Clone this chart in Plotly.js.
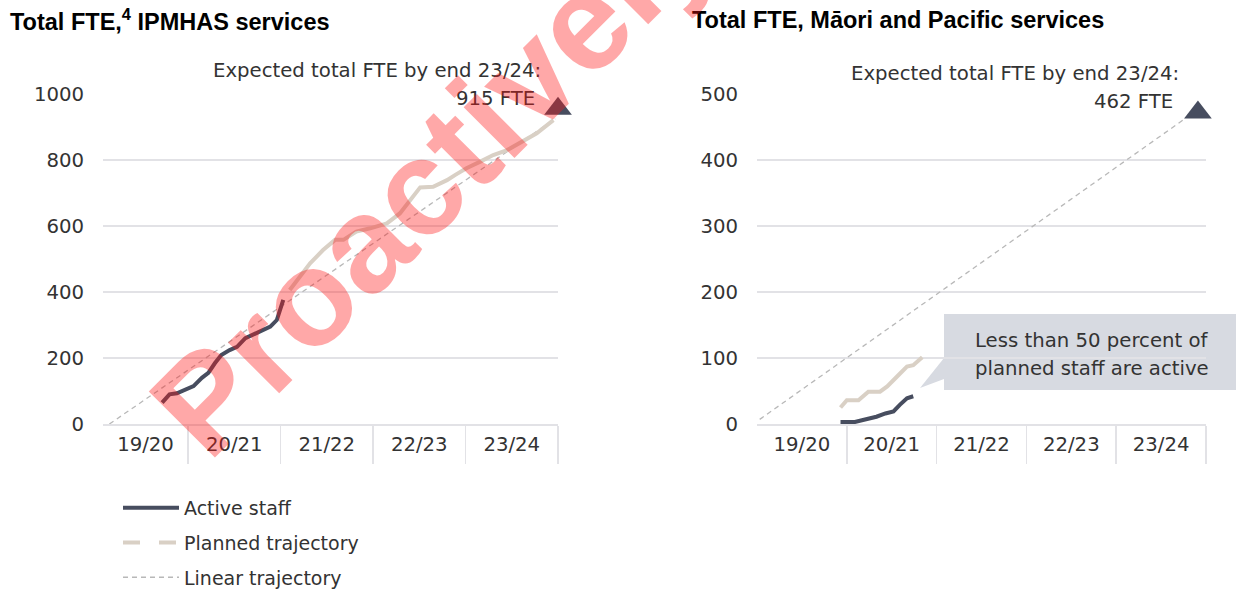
<!DOCTYPE html>
<html>
<head>
<meta charset="utf-8">
<script src="https://cdn.plot.ly/plotly-3.0.1.min.js"></script>
<style>
html,body{margin:0;padding:0;background:#fff;width:1236px;height:589px;overflow:hidden;}
#chart{width:1236px;height:589px;overflow:hidden;}
</style>
</head>
<body>
<div id="chart"></div>
<script>
// ---- Data (x in fiscal-year units: 19/20 spans 0..1, 20/21 spans 1..2, ...) ----
const fiscalYears = ['19/20', '20/21', '21/22', '22/23', '23/24'];

// IPMHAS services
const ipmActiveX  = [0.72, 0.80, 0.88, 0.99, 1.06, 1.15, 1.22, 1.29, 1.36, 1.45, 1.53, 1.62, 1.71, 1.80, 1.89, 1.96, 2.00, 2.03];
const ipmActiveY  = [65, 90, 93, 106, 115, 140, 155, 184, 209, 224, 234, 260, 271, 283, 295, 315, 350, 376];
const ipmPlannedX = [2.10, 2.32, 2.46, 2.59, 2.68, 2.82, 2.97, 3.15, 3.29, 3.40, 3.51, 3.65, 3.80, 3.89, 4.01, 4.16, 4.30, 4.45, 4.59, 4.77, 4.95];
const ipmPlannedY = [406, 487, 527, 558, 558, 583, 593, 608, 638, 679, 717, 719, 739, 755, 775, 795, 815, 830, 851, 881, 921];
const ipmLinearX  = [0.15, 4.97];
const ipmLinearY  = [0, 925];
const ipmExpected = 915;
const ipmMarkerX  = [5.0];
const ipmMarkerY  = [955];

// Maori and Pacific services
const mpActiveX  = [0.93, 1.09, 1.18, 1.33, 1.43, 1.52, 1.59, 1.67, 1.74];
const mpActiveY  = [3, 3, 6, 11, 16, 19, 29, 39, 42];
const mpPlannedX = [0.93, 1.00, 1.13, 1.24, 1.37, 1.45, 1.56, 1.67, 1.74, 1.84];
const mpPlannedY = [25, 36, 36, 49, 49, 57, 72, 87, 89, 101];
const mpLinearX  = [0.03, 4.77];
const mpLinearY  = [7, 463];
const mpExpected = 462;
const mpMarkerX  = [4.91];
const mpMarkerY  = [472];

const legendNames = ['Active staff', 'Planned trajectory', 'Linear trajectory'];
const calloutLines = ['Less than 50 percent of', 'planned staff are active'];

// ---- Styles ----
const FONT = '"DejaVu Sans", sans-serif';
const FS = 19.7;
const TXT = '#333333';
const C_ACTIVE = '#474d5f';
const C_PLANNED = '#d9d0c5';
const C_LINEAR = '#b8b8b8';
const C_GRID = '#e2e2e6';

function build(xa, ya, lx, ly, plx, ply, ax, ay, mkx, mky) {
  return [
    {x: lx, y: ly, xaxis: xa, yaxis: ya, type: 'scatter', mode: 'lines', showlegend: false,
     line: {color: C_LINEAR, width: 1.3, dash: '5px,4px'}, hoverinfo: 'skip'},
    {x: plx, y: ply, xaxis: xa, yaxis: ya, type: 'scatter', mode: 'lines', showlegend: false,
     line: {color: C_PLANNED, width: 4}, hoverinfo: 'skip'},
    {x: ax, y: ay, xaxis: xa, yaxis: ya, type: 'scatter', mode: 'lines', showlegend: false,
     line: {color: C_ACTIVE, width: 4}, hoverinfo: 'skip'},
    {x: mkx, y: mky, xaxis: xa, yaxis: ya, type: 'scatter', mode: 'markers', showlegend: false,
     cliponaxis: false, marker: {symbol: 'triangle-up', size: 24, color: C_ACTIVE}, hoverinfo: 'skip'}
  ];
}
const traces = [];
traces.push(...build('x', 'y', ipmLinearX, ipmLinearY, ipmPlannedX, ipmPlannedY, ipmActiveX, ipmActiveY, ipmMarkerX, ipmMarkerY));
traces.push(...build('x2', 'y2', mpLinearX, mpLinearY, mpPlannedX, mpPlannedY, mpActiveX, mpActiveY, mpMarkerX, mpMarkerY));

// legend-only entries
traces.push({x: [null], y: [null], type: 'scatter', mode: 'lines', name: legendNames[0], legendgroup: 'a',
  line: {color: C_ACTIVE, width: 4}});
traces.push({x: [null], y: [null], type: 'scatter', mode: 'lines', name: legendNames[1], legendgroup: 'b',
  line: {color: C_PLANNED, width: 4, dash: '17px,19px'}});
traces.push({x: [null], y: [null], type: 'scatter', mode: 'lines', name: legendNames[2], legendgroup: 'c',
  line: {color: C_LINEAR, width: 1.3, dash: '5px,4px'}});

const W = 1236, H = 589;
const px = v => v / W;
const py = v => (H - v) / H;

function xAxis(domain, range) {
  const first = (Math.max(range[0], 0) + 1) / 2;
  const centers = fiscalYears.map((_, i) => i === 0 ? first : i + 0.5);
  return {
    domain: domain, range: range, fixedrange: true,
    tickmode: 'array', tickvals: centers, ticktext: fiscalYears, ticks: '',
    tickfont: {family: FONT, size: FS, color: TXT},
    showgrid: false, zeroline: false, showline: true, linecolor: C_GRID, linewidth: 1.5,
    ticklabelstandoff: 2,
    minor: {tickmode: 'array', tickvals: [1, 2, 3, 4, 5], ticks: 'outside', ticklen: 38,
            tickcolor: C_GRID, tickwidth: 1.5, showgrid: false}
  };
}
function yAxis(domain, range, dtick, anchor) {
  return {
    domain: domain, range: range, fixedrange: true, anchor: anchor,
    tickmode: 'linear', tick0: 0, dtick: dtick,
    tickfont: {family: FONT, size: FS, color: TXT},
    showgrid: true, gridcolor: C_GRID, gridwidth: 1.5,
    zeroline: false, showline: false, ticks: '', ticklabelstandoff: 18
  };
}

const yDom = [py(424), py(94)];
const TITLE_FONT = {family: 'Liberation Sans, Arial, sans-serif', size: 23.5, color: '#000'};
const ANN_FONT = {family: FONT, size: FS, color: TXT};
const textAt = (x, y, text, anchor) => ({xref: 'paper', yref: 'paper', x: px(x), y: py(y),
  xanchor: anchor || 'right', yanchor: 'middle', showarrow: false, text: text, font: ANN_FONT});

const layout = {
  width: W, height: H, autosize: false,
  margin: {l: 0, r: 0, t: 0, b: 0, pad: 0, autoexpand: false},
  paper_bgcolor: '#ffffff', plot_bgcolor: '#ffffff',
  font: {family: FONT, color: TXT},
  showlegend: true,
  legend: {
    x: px(118), y: py(489), xanchor: 'left', yanchor: 'top',
    font: {family: FONT, size: 19, color: TXT},
    itemwidth: 56, tracegroupgap: 7, bgcolor: 'rgba(0,0,0,0)'
  },
  xaxis: Object.assign(xAxis([px(103), px(558)], [0.081, 5]), {anchor: 'y'}),
  yaxis: yAxis(yDom, [0, 1000], 200, 'x'),
  xaxis2: Object.assign(xAxis([px(757), px(1206)], [0, 5]), {anchor: 'y2'}),
  yaxis2: yAxis(yDom, [0, 500], 100, 'x2'),
  shapes: [
    {type: 'rect', xref: 'paper', yref: 'paper', x0: px(944), x1: 1, y0: py(390), y1: py(314),
     fillcolor: '#d7dae1', line: {width: 0}, layer: 'below'},
    {type: 'path', xref: 'paper', yref: 'paper', fillcolor: '#d7dae1', line: {width: 0}, layer: 'below',
     path: `M${px(944)},${py(358)} L${px(920)},${py(388)} L${px(944)},${py(379)} Z`}
  ],
  annotations: [
    {xref: 'paper', yref: 'paper', x: px(8), y: py(20), xanchor: 'left', yanchor: 'middle', showarrow: false,
     text: '<b>Total FTE,<sup>4</sup> IPMHAS services</b>', font: TITLE_FONT},
    {xref: 'paper', yref: 'paper', x: px(690), y: py(20), xanchor: 'left', yanchor: 'middle', showarrow: false,
     text: '<b>Total FTE, Māori and Pacific services</b>', font: TITLE_FONT},
    textAt(543, 70, 'Expected total FTE by end 23/24:'),
    textAt(537, 98, ipmExpected + ' FTE'),
    textAt(1181, 74, 'Expected total FTE by end 23/24:'),
    textAt(1175, 102, mpExpected + ' FTE'),
    textAt(1211, 340, calloutLines[0]),
    textAt(1211, 368, calloutLines[1]),
    // watermark
    {xref: 'paper', yref: 'paper', x: px(656), y: py(-50), xanchor: 'center', yanchor: 'middle', showarrow: false,
     textangle: -45, text: '<b>Proactively Released</b>',
     font: {family: 'Liberation Sans, Arial, sans-serif', size: 136, color: 'rgba(255,20,20,0.37)'}}
  ]
};

Plotly.newPlot('chart', traces, layout, {staticPlot: true, displayModeBar: false});
</script>
</body>
</html>
